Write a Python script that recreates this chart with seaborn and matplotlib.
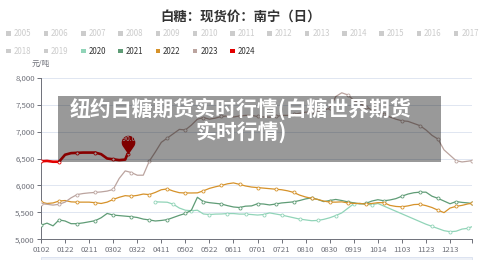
import numpy as np
import pandas as pd
import seaborn as sns
import matplotlib.pyplot as plt
from matplotlib.path import Path
from matplotlib.patches import Rectangle
from matplotlib.ticker import FuncFormatter

# x axis is a category axis of month-day strings (holidays 0101, 0501, 1001-1005 never have data)
days = pd.date_range('2024-01-02', '2024-12-31')
days = days[~days.strftime('%m%d').isin(['0501', '1001', '1002', '1003', '1004', '1005'])]
categories = list(days.strftime('%m%d'))

# sampled dates used for the older years (every 5th category + last one)
sample_days = ['0102', '0107', '0112', '0117', '0122', '0127', '0201', '0206', '0211', '0216',
               '0221', '0226', '0302', '0307', '0312', '0317', '0322', '0327', '0401', '0406',
               '0411', '0416', '0421', '0426', '0502', '0507', '0512', '0517', '0522', '0527',
               '0601', '0606', '0611', '0616', '0621', '0626', '0701', '0706', '0711', '0716',
               '0721', '0726', '0731', '0805', '0810', '0815', '0820', '0825', '0830', '0904',
               '0909', '0914', '0919', '0924', '0929', '1009', '1014', '1019', '1024', '1029',
               '1103', '1108', '1113', '1118', '1123', '1128', '1203', '1208', '1213', '1218',
               '1223', '1228', '1231']

price_2020 = [None, None, None, None, None, None, None, None, None, None,
              None, None, None, None, None, None, None, None, None, 5695,
              5692, 5688, 5650, 5580, 5540, 5530, 5540, 5470, 5460, 5468,
              5470, 5478, 5478, 5468, 5468, 5460, 5450, 5460, 5490, 5470,
              5450, 5425, 5400, 5375, 5360, 5345, 5350, 5370, 5400, 5440,
              5490, 5575, 5660, 5666, 5650, 5640, 5665, None, None, None,
              None, None, None, None, 5280, 5240, 5200, 5160, 5141, 5150,
              5190, 5205, 5233]
price_2021 = [5260, 5300, 5250, 5360, 5340, 5290, 5290, 5305, 5325, 5345,
              5400, 5480, 5450, 5440, 5430, 5420, 5405, 5375, 5360, 5340,
              5350, 5365, 5405, 5445, 5480, 5540, 5780, 5700, 5680, 5668,
              5655, 5625, 5600, 5590, 5615, 5620, 5660, 5655, 5638, 5655,
              5675, 5685, 5695, 5720, 5750, 5770, 5740, 5700, 5720, 5740,
              5720, 5695, 5677, 5658, 5666, 5710, 5735, 5715, 5730, 5755,
              5800, 5840, 5865, 5875, 5875, 5800, 5760, 5710, 5660, 5700,
              5685, 5675, 5666]
price_2022 = [5690, 5665, 5675, 5710, 5720, 5695, 5690, 5690, 5690, 5680,
              5665, 5690, 5740, 5780, 5810, 5800, 5815, 5840, 5830, 5870,
              5920, 5935, 5895, 5865, 5860, 5860, 5862, 5900, 5945, 5975,
              6000, 6030, 6047, 6020, 5990, 5970, 5960, 5950, 5940, 5930,
              5920, 5900, 5870, 5820, 5785, 5760, 5740, 5710, 5690, 5690,
              5695, 5675, 5666, 5666, 5653, 5665, 5680, 5680, 5630, 5610,
              5603, 5620, 5645, 5650, 5625, 5590, 5540, 5495, 5580, 5612,
              5630, 5658, 5666]
price_2023 = [5660, 5650, 5635, 5650, 5690, 5770, 5830, 5850, 5862, 5870,
              5880, 5895, 5925, 6130, 6270, 6240, 6190, 6190, 6450, 6620,
              6800, 6880, 6960, 7040, 7030, 7120, 7230, 7260, 7230, 7250,
              7280, 7290, 7270, 7290, 7300, 7300, 7280, 7270, 7268, 7280,
              7300, 7300, 7320, 7340, 7360, 7360, 7380, 7400, 7430, 7650,
              7720, 7680, 7580, 7520, 7460, 7400, 7360, 7330, 7270, 7230,
              7200, 7190, 7150, 7110, 7030, 6930, 6860, 6660, 6560, 6460,
              6436, 6450, 6460]

days_2024 = ['0102', '0107', '0112', '0117', '0122', '0127', '0201', '0206', '0211', '0216',
             '0221', '0226', '0302', '0307', '0312', '0314']
price_2024 = [6448, 6455, 6440, 6440, 6570, 6600, 6605, 6610, 6610, 6610,
              6580, 6500, 6485, 6470, 6480, 6590]
latest_day, latest_price = '0314', 6590

all_years = [str(y) for y in range(2005, 2025)]
shown_years = ['2020', '2021', '2022', '2023', '2024']
year_colors = {'2020': '#91d4b8', '2021': '#5f9c76', '2022': '#d6922a',
               '2023': '#bba49f', '2024': '#e30000'}

title = '白糖：现货价：南宁（日）'
banner_lines = ['纽约白糖期货实时行情(白糖世界期货', '实时行情)']

# long table for seaborn
rows = []
for year, vals in zip(shown_years[:4], [price_2020, price_2021, price_2022, price_2023]):
    for d, v in zip(sample_days, vals):
        rows.append((year, categories.index(d), v))
for d, v in zip(days_2024, price_2024):
    rows.append(('2024', categories.index(d), v))
df = pd.DataFrame(rows, columns=['year', 'pos', 'price']).dropna()

sns.set_theme(style='white')
plt.rcParams['font.family'] = ['Noto Sans CJK SC', 'DejaVu Sans']

W, H = 500, 260
fig = plt.figure(figsize=(5, 2.6), dpi=100)
ax = fig.add_axes([41 / W, 1 - 239.3 / H, (471.7 - 41) / W, (239.3 - 77.7) / H])

for year in shown_years:
    sub = df[df['year'] == year]
    lw = 1.9 if year == '2024' else 0.9
    sns.lineplot(data=sub, x='pos', y='price', ax=ax, color=year_colors[year], lw=lw,
                 marker='o', ms=2.2, mfc='white', mec=year_colors[year], mew=0.6,
                 markevery=3, legend=False, zorder=3 if year != '2024' else 4)

# pin marking latest 2024 value
r, c = 1.0, 1.75
a = np.degrees(np.arccos(r / c))
ang = np.radians(np.linspace(-90 + a, 270 - a, 40))
verts = [(0, 0)] + [(r * np.cos(t), c + r * np.sin(t)) for t in ang] + [(0, 0)]
pin = Path(verts, [Path.MOVETO] + [Path.LINETO] * (len(verts) - 2) + [Path.CLOSEPOLY])
px = categories.index(latest_day)
ax.plot([px], [latest_price], marker=pin, ms=27, color='#d40000', mew=0, zorder=5)
ax.annotate(f'{latest_price:.2f}', (px, latest_price), xytext=(0, 10.5),
            textcoords='offset points', ha='center', va='center', fontsize=4.8,
            color='white', zorder=6)

ax.set_xlim(0, len(categories) - 1)
ax.set_ylim(5000, 8000)
ax.set_yticks(range(5000, 8001, 500))
ax.yaxis.set_major_formatter(FuncFormatter(lambda v, p: f'{v:,.0f}'))
ticks = list(range(0, 341, 20)) + [len(categories) - 1]
ax.set_xticks(ticks)
ax.set_xticklabels([categories[t] for t in ticks[:-1]] + [''])
ax.set_xlabel('')
ax.set_ylabel('')
ax.yaxis.grid(True, color='#e0e6f1', lw=0.7)
ax.xaxis.grid(False)
for s in ['top', 'right']:
    ax.spines[s].set_visible(False)
for s in ['left', 'bottom']:
    ax.spines[s].set_color('#6e7079')
    ax.spines[s].set_linewidth(0.7)
ax.tick_params(axis='both', length=3, width=0.7, color='#6e7079', labelsize=5.6,
               labelcolor='#6e7079', pad=1.5, direction='out')
ax.tick_params(axis='x', bottom=True)
ax.tick_params(axis='y', left=True)

fig.text(41 / W, 1 - 64 / H, '元/吨', ha='center', va='center', fontsize=5.5, color='#6e7079')
fig.text(241 / W, 1 - 17 / H, title, ha='center', va='center', fontsize=9.6,
         fontweight='bold', color='#333333')

# legend, two rows, years before 2020 are switched off (grey)
for i, year in enumerate(all_years):
    row, col = (0, i) if i < 13 else (1, i - 13)
    x0 = 6.3 + col * 37.3
    y0 = 33.3 if row == 0 else 51
    on = year in shown_years
    fig.add_artist(Rectangle((x0 / W, 1 - (y0 + 2.3) / H), 4.6 / W, 4.6 / H,
                             transform=fig.transFigure,
                             color=year_colors[year] if on else '#cccccc', lw=0))
    fig.text((x0 + 7.5) / W, 1 - y0 / H, year, ha='left', va='center', fontsize=5.7,
             color='#333333' if on else '#cccccc')

# slider strip at the bottom
fig.add_artist(Rectangle((41 / W, 0), (472 - 41) / W, 3.5 / H, transform=fig.transFigure,
                         facecolor='#eef1f7', edgecolor='#d2dbee', lw=0.5))

# grey banner laid over the plot
fig.add_artist(Rectangle((58.3 / W, 1 - 162.3 / H), (440.7 - 58.3) / W, (162.3 - 96) / H,
                         transform=fig.transFigure, facecolor='black', alpha=0.4, lw=0,
                         zorder=10))
for line, yc in zip(banner_lines, [108.5, 132]):
    fig.text(241 / W, 1 - yc / H, line, ha='center', va='center', fontsize=15,
             fontweight='bold', color='white', zorder=11)

fig.savefig('out.png', dpi=100)
